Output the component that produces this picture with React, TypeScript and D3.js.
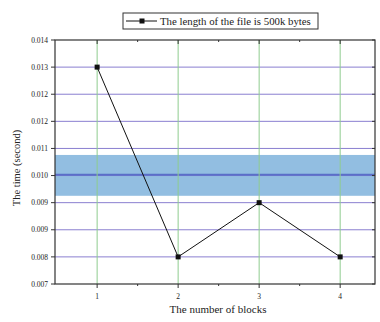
import React from "react";
import * as d3 from "d3";

// Block counts and measured times (seconds)
const blocks = [1, 2, 3, 4];
const times = [0.013, 0.00775, 0.00925, 0.00775];

// Shaded reference band and its centre line (seconds)
const bandRange = [0.00944, 0.01057];
const bandCenter = [0.01002];

// Y tick positions and the labels printed at them
const yTickValues = [0.007, 0.00775, 0.0085, 0.00925, 0.01, 0.01075, 0.0115, 0.01225, 0.013, 0.01375];
const yTickLabels = ["0.007", "0.008", "0.009", "0.009", "0.010", "0.011", "0.012", "0.012", "0.013", "0.014"];
const xTickValues = [1, 2, 3, 4];
const xMinorTicks = [1.5, 2.5, 3.5];

const legendText = "The length of the file is 500k bytes";
const xTitle = "The number of blocks";
const yTitle = "The time (second)";

export default function App() {
  const W = 380;
  const H = 322;
  const m = { left: 55, right: 5, top: 40, bottom: 38 };
  const x = d3.scaleLinear().domain([0.48, 4.43]).range([m.left, W - m.right]);
  const y = d3.scaleLinear().domain([0.007, 0.01375]).range([H - m.bottom, m.top]);
  const line = d3
    .line<number>()
    .x((_, i) => x(blocks[i]))
    .y((d) => y(d));
  const font = "'Liberation Serif', 'Times New Roman', serif";
  const x0 = m.left;
  const x1 = W - m.right;
  const y0 = H - m.bottom;
  const y1 = m.top;

  return (
    <svg width={W} height={H} style={{ position: "absolute", left: 0, top: 0, background: "#fff" }}>
      {/* shaded band */}
      <rect x={x0} y={y(bandRange[1])} width={x1 - x0} height={y(bandRange[0]) - y(bandRange[1])} fill="#7fb3dc" opacity={0.85} />
      {/* horizontal grid */}
      {yTickValues.slice(1, -1).map((v, i) => (
        <line key={"hg" + i} x1={x0} x2={x1} y1={y(v)} y2={y(v)} stroke="#8a7fd0" strokeWidth={1} />
      ))}
      <line x1={x0} x2={x1} y1={y(bandCenter[0])} y2={y(bandCenter[0])} stroke="#5a6fc8" strokeWidth={2} />
      {/* vertical grid */}
      {xTickValues.map((v) => (
        <line key={"vg" + v} x1={x(v)} x2={x(v)} y1={y1} y2={y0} stroke="#8fcc8f" strokeWidth={1} />
      ))}
      {/* frame */}
      <rect x={x0} y={y1} width={x1 - x0} height={y0 - y1} fill="none" stroke="#333" strokeWidth={1.2} />
      {/* left axis ticks and labels */}
      {yTickValues.map((v, i) => (
        <g key={"yt" + i}>
          <line x1={x0 - 4} x2={x0} y1={y(v)} y2={y(v)} stroke="#333" />
          <line x1={x1} x2={x1 - 3} y1={y(v)} y2={y(v)} stroke="#333" />
          <text x={x0 - 7} y={y(v)} dy="0.35em" textAnchor="end" fontSize={7.5} fontFamily={font} fill="#222">
            {yTickLabels[i]}
          </text>
        </g>
      ))}
      {/* bottom axis ticks and labels */}
      {xTickValues.map((v) => (
        <g key={"xt" + v}>
          <line x1={x(v)} x2={x(v)} y1={y0} y2={y0 + 4} stroke="#333" />
          <line x1={x(v)} x2={x(v)} y1={y1} y2={y1 + 4} stroke="#333" />
          <text x={x(v)} y={y0 + 15} textAnchor="middle" fontSize={7.5} fontFamily={font} fill="#222">
            {v}
          </text>
        </g>
      ))}
      {xMinorTicks.map((v) => (
        <g key={"xm" + v}>
          <line x1={x(v)} x2={x(v)} y1={y0} y2={y0 + 2} stroke="#333" />
          <line x1={x(v)} x2={x(v)} y1={y1} y2={y1 + 2} stroke="#333" />
        </g>
      ))}
      {/* data series */}
      <path d={line(times) ?? ""} fill="none" stroke="#111" strokeWidth={1} />
      {times.map((v, i) => (
        <rect key={"pt" + i} x={x(blocks[i]) - 2.5} y={y(v) - 2.5} width={5} height={5} fill="#111" />
      ))}
      {/* axis titles */}
      <text x={218} y={H - 9} textAnchor="middle" fontSize={11} fontFamily={font} fill="#222">
        {xTitle}
      </text>
      <text
        transform={`translate(20,${168}) rotate(-90)`}
        textAnchor="middle"
        fontSize={10.5}
        fontFamily={font}
        fill="#222"
      >
        {yTitle}
      </text>
      {/* legend */}
      <rect x={123} y={13} width={195} height={16} fill="#fff" stroke="#333" strokeWidth={1} />
      <line x1={126} x2={157} y1={21} y2={21} stroke="#111" />
      <rect x={139.5} y={18.5} width={5} height={5} fill="#111" />
      <text x={160} y={21} dy="0.35em" fontSize={10.8} fontFamily={font} fill="#222">
        {legendText}
      </text>
    </svg>
  );
}
